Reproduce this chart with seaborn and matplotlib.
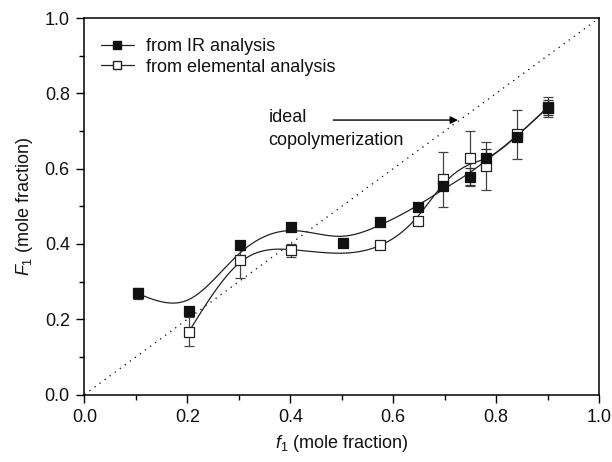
import numpy as np
import matplotlib
matplotlib.use("Agg")
import matplotlib.pyplot as plt
from matplotlib.lines import Line2D
import seaborn as sns

# Copolymer composition data
ir_f1 = [0.105, 0.203, 0.303, 0.401, 0.502, 0.574, 0.649, 0.697, 0.750, 0.780, 0.841, 0.900]
ir_F1 = [0.269, 0.221, 0.397, 0.446, 0.402, 0.457, 0.499, 0.555, 0.579, 0.628, 0.685, 0.762]
ir_err = [0.015, 0.0, 0.010, 0.008, 0.0, 0.010, 0.008, 0.012, 0.022, 0.025, 0.010, 0.020]

el_f1 = [0.203, 0.303, 0.401, 0.574, 0.649, 0.697, 0.750, 0.780, 0.841, 0.900]
el_F1 = [0.167, 0.358, 0.383, 0.396, 0.462, 0.572, 0.627, 0.607, 0.691, 0.763]
el_err = [0.038, 0.048, 0.018, 0.010, 0.008, 0.073, 0.074, 0.063, 0.065, 0.026]

ideal_line = [0.0, 1.0]

x_ticks = [0.0, 0.2, 0.4, 0.6, 0.8, 1.0]
y_ticks = [0.0, 0.2, 0.4, 0.6, 0.8, 1.0]


def smoothing_spline(x, y, p, step=0.001, end_weight=8.0):
    """Penalised (cubic smoothing spline style) curve on a fine grid,
    pinned more firmly at both end points."""
    x = np.asarray(x, float)
    y = np.asarray(y, float)
    n = int(round((x[-1] - x[0]) / step)) + 1
    grid = np.linspace(x[0], x[-1], n)
    idx = np.clip(np.round((x - x[0]) / step).astype(int), 0, n - 1)
    w = np.ones(len(x))
    w[0] = w[-1] = end_weight
    W = np.zeros((n, n))
    rhs = np.zeros(n)
    for k, yi, wi in zip(idx, y, w):
        W[k, k] += wi
        rhs[k] += wi * yi
    D = np.diff(np.eye(n), 2, axis=0)
    A = W + (p / step ** 3) * D.T @ D
    g = np.linalg.solve(A, rhs)
    return grid, g


sns.set_theme(style="ticks")
plt.rcParams["font.family"] = ["Liberation Sans", "DejaVu Sans"]
plt.rcParams["mathtext.fontset"] = "custom"
plt.rcParams["mathtext.rm"] = "Liberation Sans"
plt.rcParams["mathtext.it"] = "Liberation Sans:italic"

FS = 13

fig = plt.figure(figsize=(6.12, 4.62), dpi=100)
ax = fig.add_axes([0.138, 0.146, 0.841, 0.815])

# ideal copolymerization diagonal
sns.lineplot(x=ideal_line, y=ideal_line, ax=ax, color="black", lw=0.9,
             linestyle=(0, (1, 4)), legend=False)

# smooth curves through the points
xs, ys = smoothing_spline(ir_f1, ir_F1, p=5.0e-5)
sns.lineplot(x=xs, y=ys, ax=ax, color="#222222", lw=0.9, sort=False, legend=False)
xs, ys = smoothing_spline(el_f1, el_F1, p=1.5e-5)
sns.lineplot(x=xs, y=ys, ax=ax, color="#222222", lw=0.9, sort=False, legend=False)

# error bars
ax.errorbar(el_f1, el_F1, yerr=el_err, fmt="none", ecolor="#444444",
            elinewidth=0.9, capsize=3.5, capthick=0.9, zorder=3)
ax.errorbar(ir_f1, ir_F1, yerr=ir_err, fmt="none", ecolor="#333333",
            elinewidth=0.9, capsize=3.5, capthick=0.9, zorder=3)

# markers
sns.scatterplot(x=el_f1, y=el_F1, ax=ax, marker="s", s=42, color="white",
                edgecolor="#222222", linewidth=0.9, zorder=4, legend=False)
sns.scatterplot(x=ir_f1, y=ir_F1, ax=ax, marker="s", s=42, color="#111111",
                edgecolor="#111111", linewidth=0.9, zorder=5, legend=False)

ax.set_xlim(0, 1)
ax.set_ylim(0, 1)
ax.set_xticks(x_ticks)
ax.set_yticks(y_ticks)
ax.set_xticklabels([f"{t:.1f}" for t in x_ticks])
ax.set_yticklabels([f"{t:.1f}" for t in y_ticks])
ax.set_xticks(np.arange(0.1, 1.0, 0.2), minor=True)
ax.set_yticks(np.arange(0.1, 1.0, 0.2), minor=True)
ax.tick_params(axis="both", which="major", direction="out", length=5.5, width=1,
               labelsize=FS, color="black", labelcolor="#111111", pad=5)
ax.tick_params(axis="both", which="minor", direction="out", length=3.3, width=1,
               color="black")
for s in ax.spines.values():
    s.set_visible(True)
    s.set_linewidth(1.1)
    s.set_color("black")

ax.set_xlabel("$f_1$ (mole fraction)", fontsize=FS, labelpad=5, color="#111111")
ax.set_ylabel("$F_1$ (mole fraction)", fontsize=FS, labelpad=7, color="#111111")

# annotation with arrow to the diagonal
ax.annotate("", xy=(0.731, 0.729), xytext=(0.478, 0.729),
            arrowprops=dict(arrowstyle="-|>", color="black", lw=1.0,
                            mutation_scale=11))
ax.text(0.358, 0.737, "ideal", fontsize=FS, ha="left", va="center", color="#111111")
ax.text(0.358, 0.676, "copolymerization", fontsize=FS, ha="left", va="center",
        color="#111111")

handles = [
    Line2D([], [], color="#222222", lw=0.9, marker="s", markersize=6,
           markerfacecolor="#111111", markeredgecolor="#111111"),
    Line2D([], [], color="#222222", lw=0.9, marker="s", markersize=6,
           markerfacecolor="white", markeredgecolor="#222222"),
]
ax.legend(handles, ["from IR analysis", "from elemental analysis"],
          loc="upper left", bbox_to_anchor=(0.0, 0.99), frameon=False,
          fontsize=FS, handlelength=1.85, handletextpad=0.65,
          labelspacing=0.2, borderaxespad=0.5, numpoints=1,
          labelcolor="#111111")

fig.savefig("out.png", dpi=100)
